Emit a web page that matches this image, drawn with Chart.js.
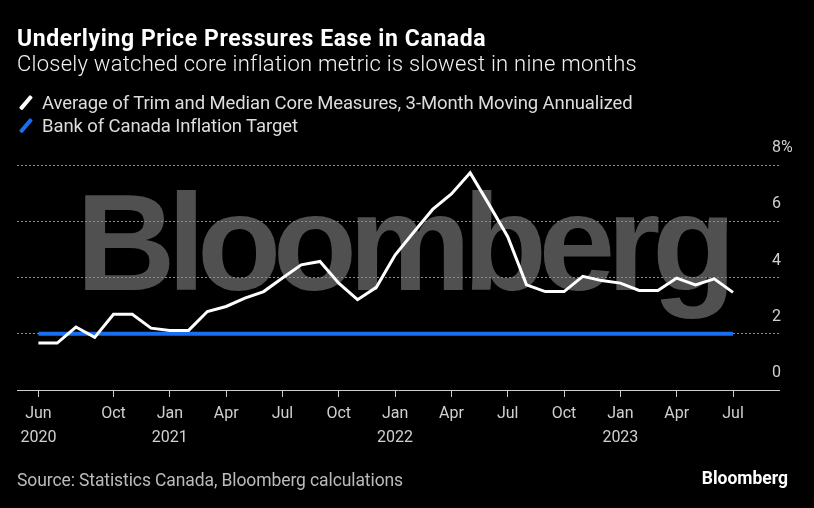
<!DOCTYPE html>
<html lang="en">
<head>
  <meta charset="UTF-8" />
  <title>Underlying Price Pressures Ease in Canada</title>
  <script src="https://cdn.jsdelivr.net/npm/chart.js"></script>
  <style>
    body { margin: 0; background: #000; font-family: Roboto, "Noto Sans", sans-serif; }
    #wrap { position: relative; width: 814px; height: 508px; overflow: hidden; }
    #wrap canvas { position: absolute; left: 0; top: 0; }
    .txt { position: absolute; white-space: nowrap; line-height: 1; }
    #title { left: 17px; top: 27px; font-size: 23px; font-weight: 700; color: #fff; letter-spacing: 0.6px; }
    #subtitle { left: 17px; top: 53px; font-size: 22px; font-weight: 300; color: #f2f2f2; letter-spacing: 0.25px; }
    .leg { left: 42px; font-size: 18.5px; color: #ddd; letter-spacing: -0.1px; }
    .mark { position: absolute; left: -18px; top: 0px; width: 3.5px; height: 17px; transform: rotate(40deg); border-radius: 1px; }
    #source { left: 17px; top: 472px; font-size: 17.5px; color: #bbb; letter-spacing: -0.1px; }
    #logo { right: 26px; top: 470px; font-size: 17.5px; font-weight: 700; color: #fff; }
  </style>
</head>
<body>
<div id="wrap">
  <canvas id="chart"></canvas>
  <div class="txt" id="title">Underlying Price Pressures Ease in Canada</div>
  <div class="txt" id="subtitle">Closely watched core inflation metric is slowest in nine months</div>
  <div class="txt leg" style="top:94px"><span class="mark" style="background:#fff"></span>Average of Trim and Median Core Measures, 3-Month Moving Annualized</div>
  <div class="txt leg" style="top:117px"><span class="mark" style="background:#1a6ff0"></span>Bank of Canada Inflation Target</div>
  <div class="txt" id="source">Source: Statistics Canada, Bloomberg calculations</div>
  <div class="txt" id="logo">Bloomberg</div>
</div>

<script>
  // monthly data, Jun 2020 - Jul 2023
  const months = [
    '2020-06', '2020-07', '2020-08', '2020-09', '2020-10', '2020-11', '2020-12',
    '2021-01', '2021-02', '2021-03', '2021-04', '2021-05', '2021-06',
    '2021-07', '2021-08', '2021-09', '2021-10', '2021-11', '2021-12',
    '2022-01', '2022-02', '2022-03', '2022-04', '2022-05', '2022-06',
    '2022-07', '2022-08', '2022-09', '2022-10', '2022-11', '2022-12',
    '2023-01', '2023-02', '2023-03', '2023-04', '2023-05', '2023-06', '2023-07'
  ];
  const coreInflation = [
    1.67, 1.67, 2.24, 1.87, 2.69, 2.69, 2.20,
    2.12, 2.12, 2.79, 2.97, 3.27, 3.50,
    3.98, 4.45, 4.57, 3.80, 3.21, 3.65,
    4.80, 5.62, 6.42, 6.97, 7.72, 6.60,
    5.45, 3.74, 3.50, 3.50, 4.04, 3.89,
    3.80, 3.54, 3.54, 3.98, 3.74, 3.95, 3.47
  ];
  const inflationTarget = 2;

  const tickMonths = ['2020-06', '2020-10', '2021-01', '2021-04', '2021-07', '2021-10',
    '2022-01', '2022-04', '2022-07', '2022-10', '2023-01', '2023-04', '2023-07'];
  const tickLabels = [['Jun', '2020'], ['Oct'], ['Jan', '2021'], ['Apr'], ['Jul'], ['Oct'],
    ['Jan', '2022'], ['Apr'], ['Jul'], ['Oct'], ['Jan', '2023'], ['Apr'], ['Jul']];
  const yTicks = [0, 2, 4, 6, 8];

  const coreData = months.map((m, i) => ({ x: i, y: coreInflation[i] }));
  const targetData = [
    { x: 0, y: inflationTarget },
    { x: months.length - 1, y: inflationTarget }
  ];

  // big grey watermark behind the grid
  const watermark = {
    id: 'watermark',
    beforeDraw(chart) {
      const ctx = chart.ctx;
      const text = 'Bloomberg';
      const left = 85, right = 728;
      ctx.save();
      ctx.font = 'bold 138px "Liberation Sans", Arial, sans-serif';
      ctx.fillStyle = '#505050';
      ctx.textBaseline = 'alphabetic';
      const inkWidth = s => {
        ctx.letterSpacing = s + 'px';
        const m = ctx.measureText(text);
        return m.actualBoundingBoxLeft + m.actualBoundingBoxRight;
      };
      const w0 = inkWidth(0), w1 = inkWidth(-10);
      const s = -10 * (w0 - (right - left)) / (w0 - w1);
      ctx.letterSpacing = s + 'px';
      const m = ctx.measureText(text);
      ctx.fillText(text, left + m.actualBoundingBoxLeft, 290);
      ctx.restore();
    }
  };

  // right-hand value labels, sitting above their grid lines
  const yLabels = {
    id: 'yLabels',
    afterDraw(chart) {
      const ctx = chart.ctx;
      const y = chart.scales.y;
      ctx.save();
      ctx.font = '16px Roboto, "Noto Sans", sans-serif';
      ctx.fillStyle = '#d0d0d0';
      ctx.textAlign = 'left';
      ctx.textBaseline = 'middle';
      yTicks.forEach(v => {
        ctx.fillText(v === 8 ? '8%' : String(v), chart.chartArea.right - 7, y.getPixelForValue(v) - 17);
      });
      ctx.restore();
    }
  };

  new Chart(document.getElementById('chart'), {
    type: 'line',
    data: {
      datasets: [
        {
          label: 'Average of Trim and Median Core Measures, 3-Month Moving Annualized',
          data: coreData,
          borderColor: '#ffffff',
          borderWidth: 3,
          pointRadius: 0,
          tension: 0
        },
        {
          label: 'Bank of Canada Inflation Target',
          data: targetData,
          borderColor: '#1a6ff0',
          borderWidth: 4,
          pointRadius: 0,
          order: 1
        }
      ]
    },
    options: {
      responsive: true,
      maintainAspectRatio: false,
      animation: false,
      events: [],
      layout: { padding: { top: 165, left: 17, right: 0, bottom: 0 } },
      plugins: { legend: { display: false }, tooltip: { enabled: false } },
      scales: {
        x: {
          type: 'linear',
          min: -1.14,
          max: 39.45,
          afterBuildTicks(scale) {
            scale.ticks = tickMonths.map(m => ({ value: months.indexOf(m) }));
          },
          afterFit(scale) { scale.height = 118; },
          grid: { drawOnChartArea: false, color: '#cccccc', tickLength: 7 },
          border: { display: true, color: '#cccccc', width: 1 },
          ticks: {
            autoSkip: false,
            maxRotation: 0,
            padding: 5,
            color: '#d0d0d0',
            font: { family: 'Roboto, "Noto Sans", sans-serif', size: 16, lineHeight: 1.5 },
            callback(value) {
              const k = tickMonths.indexOf(months[value]);
              return k >= 0 ? tickLabels[k] : '';
            }
          }
        },
        y: {
          position: 'right',
          min: 0,
          max: 8,
          afterBuildTicks(scale) {
            scale.ticks = yTicks.map(v => ({ value: v }));
          },
          afterFit(scale) { scale.width = 35; },
          grid: {
            drawTicks: false,
            color: ctx => (ctx.tick && ctx.tick.value === 0) ? 'rgba(0,0,0,0)' : '#8a8a8a',
            lineWidth: 1
          },
          border: { display: false, dash: [2, 2] },
          ticks: { display: false }
        }
      }
    },
    plugins: [watermark, yLabels]
  });
</script>
</body>
</html>
